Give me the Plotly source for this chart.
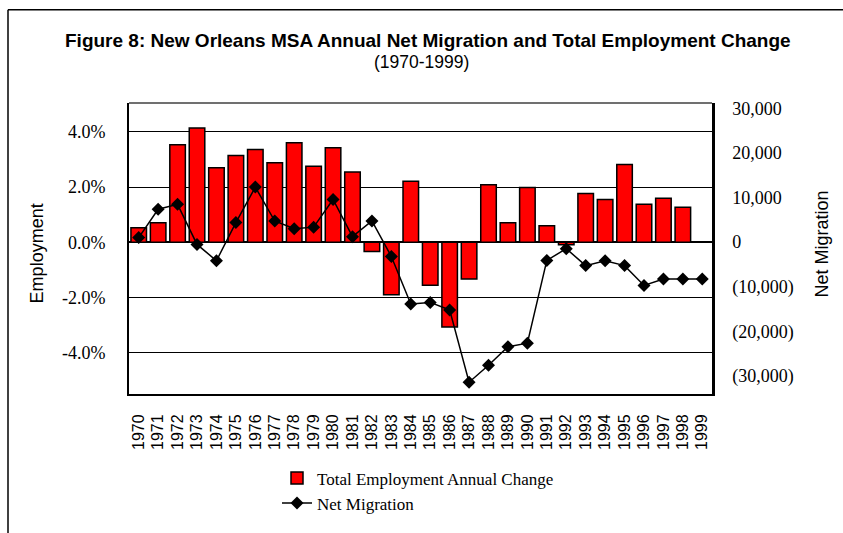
import plotly.graph_objects as go

# Annual data, New Orleans MSA, 1970-1999
years = [str(y) for y in range(1970, 2000)]

# Total employment annual change (percent)
employment_change = [
    0.53, 0.71, 3.54, 4.14, 2.70, 3.15, 3.36, 2.88, 3.61, 2.76,
    3.43, 2.55, -0.33, -1.90, 2.21, -1.56, -3.07, -1.33, 2.09, 0.71,
    1.99, 0.60, -0.09, 1.77, 1.55, 2.82, 1.38, 1.60, 1.27, None,
]

# Net migration (persons)
net_migration = [
    1020, 7390, 8490, -510, -4170, 4390, 12360, 4750, 3000, 3370,
    9580, 1240, 4750, -3220, -13900, -13530, -15220, -31460, -27650, -23480,
    -22680, -4100, -1460, -5270, -4170, -5270, -9730, -8270, -8270, -8270,
]

emp_ticks = [-4, -2, 0, 2, 4]
emp_ticktext = ["-4.0%", "-2.0%", "0.0%", "2.0%", "4.0%"]
mig_ticks = [-30000, -20000, -10000, 0, 10000, 20000, 30000]
mig_ticktext = ["(30,000)", "(20,000)", "(10,000)", "0", "10,000", "20,000", "30,000"]

W, H = 843, 533
L, R, T, B = 129, 131, 103, 132
PW, PH = W - L - R, H - T - B


def px_x(x):
    return (x - L) / PW


def px_y(y):
    return 1 - (y - T) / PH


SANS = "Liberation Sans, Arial, sans-serif"
SERIF = "Liberation Serif, Times New Roman, serif"

fig = go.Figure()

fig.add_trace(go.Bar(
    x=years, y=employment_change,
    name="Total Employment Annual Change",
    marker=dict(color="#FF0000", line=dict(color="black", width=1.5)),
    yaxis="y",
))

fig.add_trace(go.Scatter(
    x=years, y=net_migration,
    name="Net Migration",
    mode="lines+markers",
    line=dict(color="black", width=1.5),
    marker=dict(symbol="diamond", size=10, color="black"),
    yaxis="y2",
))

fig.update_layout(
    width=W, height=H, autosize=False,
    margin=dict(l=L, r=R, t=T, b=B, pad=0),
    paper_bgcolor="white", plot_bgcolor="white",
    bargap=0.2,
    showlegend=True,
    legend=dict(
        x=px_x(277), y=px_y(469), xanchor="left", yanchor="top",
        font=dict(family=SERIF, size=17, color="black"),
        bgcolor="rgba(0,0,0,0)", itemwidth=30,
    ),
    xaxis=dict(
        type="category", categoryorder="array", categoryarray=years,
        range=[-0.5, len(years) - 0.5],
        tickmode="array", tickvals=years, ticktext=years,
        tickangle=-90, tickfont=dict(family=SANS, size=16, color="black"),
        showline=True, linecolor="black", linewidth=2, mirror=False,
        showgrid=False, ticks="", ticklabelstandoff=12,
    ),
    yaxis=dict(
        range=[-5.5, 5.05], tickvals=emp_ticks, ticktext=emp_ticktext,
        tickfont=dict(family=SERIF, size=18, color="black"),
        showgrid=True, gridcolor="black", gridwidth=1,
        zeroline=True, zerolinecolor="black", zerolinewidth=2,
        showline=True, linecolor="black", linewidth=2,
        ticks="", ticklabelstandoff=18,
    ),
    yaxis2=dict(
        overlaying="y", side="right",
        range=[-34100, 31250], tickvals=mig_ticks, ticktext=mig_ticktext,
        tickfont=dict(family=SERIF, size=18, color="black"),
        showgrid=False, zeroline=False,
        showline=True, linecolor="black", linewidth=2.5,
        ticks="", ticklabelstandoff=14,
    ),
)

annotations = [
    dict(text="<b>Figure 8: New Orleans MSA Annual Net Migration and Total Employment Change</b>",
         x=px_x(428), y=px_y(39), font=dict(family=SANS, size=19, color="black")),
    dict(text="(1970-1999)",
         x=px_x(421), y=px_y(61), font=dict(family=SANS, size=17.5, color="black")),
    dict(text="Employment", textangle=-90,
         x=px_x(37), y=px_y(257), font=dict(family=SANS, size=18, color="black")),
    dict(text="Net Migration", textangle=-90,
         x=px_x(822), y=px_y(248), font=dict(family=SANS, size=18, color="black")),
]
for a in annotations:
    a.update(xref="paper", yref="paper", xanchor="center", yanchor="middle", showarrow=False)
fig.update_layout(annotations=annotations)

# Top edge of the plot area
fig.add_shape(type="line", xref="paper", yref="paper",
              x0=0, x1=1, y0=1, y1=1,
              line=dict(color="#404040", width=1.5))

# Outer frame: left and top edges of the figure box
fig.add_shape(type="line", xref="paper", yref="paper",
              x0=px_x(8), x1=px_x(8), y0=px_y(7.5), y1=px_y(545),
              line=dict(color="black", width=1.5))
fig.add_shape(type="line", xref="paper", yref="paper",
              x0=px_x(8), x1=px_x(860), y0=px_y(7.5), y1=px_y(7.5),
              line=dict(color="black", width=1.5))

fig.write_html("out.html")
